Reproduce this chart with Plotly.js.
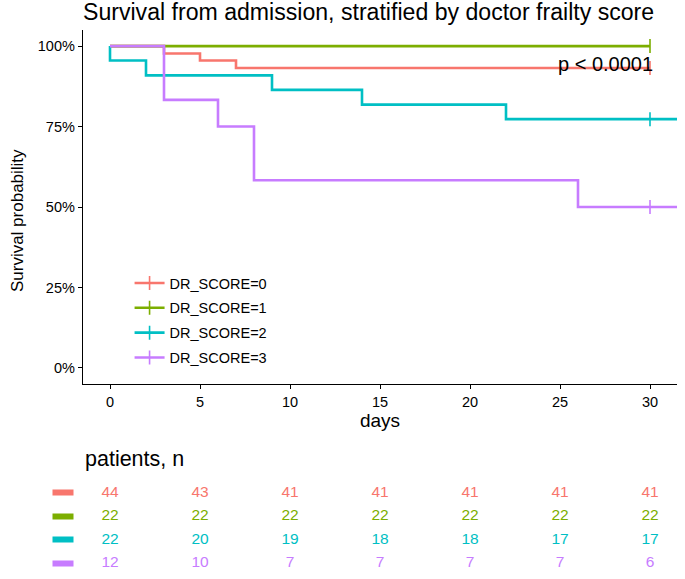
<!DOCTYPE html>
<html><head><meta charset="utf-8">
<script src="https://cdn.plot.ly/plotly-3.0.1.min.js"></script>
<style>html,body{margin:0;padding:0;background:#fff}</style>
</head><body><div id="chart" style="width:685px;height:579px"></div>
<script>
const groups = ['DR_SCORE=0','DR_SCORE=1','DR_SCORE=2','DR_SCORE=3'];
const colors = ['#F8766D','#7CAE00','#00BFC4','#C77CFF'];
// Kaplan-Meier step data (days, survival probability)
const time0 = [0, 3, 5, 7, 30];
const surv0 = [1, 0.977, 0.955, 0.932, 0.932];
const time1 = [0, 30];
const surv1 = [1, 1];
const time2 = [0, 0, 2, 9, 14, 22, 32];
const surv2 = [1, 0.955, 0.909, 0.864, 0.818, 0.773, 0.773];
const time3 = [0, 3, 6, 8, 26, 32];
const surv3 = [1, 0.833, 0.75, 0.583, 0.5, 0.5];
// censoring marks
const censorTime = [30, 30, 30, 30];
const censorSurv = [0.932, 1, 0.773, 0.5];
// risk table
const riskTimes = [0, 5, 10, 15, 20, 25, 30];
const risk0 = [44, 43, 41, 41, 41, 41, 41];
const risk1 = [22, 22, 22, 22, 22, 22, 22];
const risk2 = [22, 20, 19, 18, 18, 17, 17];
const risk3 = [12, 10, 7, 7, 7, 7, 6];
const yTicks = [0, 0.25, 0.5, 0.75, 1];
const xTicks = [0, 5, 10, 15, 20, 25, 30];

const times = [time0, time1, time2, time3];
const survs = [surv0, surv1, surv2, surv3];
const risks = [risk0, risk1, risk2, risk3];
const FONT = 'Liberation Sans, Arial, sans-serif';

const traces = [];
for (let i = 0; i < 4; i++) {
  traces.push({
    x: times[i], y: survs[i], type: 'scatter', mode: 'lines',
    line: {shape: 'hv', color: colors[i], width: 2.6},
    showlegend: false, hoverinfo: 'skip', xaxis: 'x', yaxis: 'y'
  });
}
for (let i = 0; i < 4; i++) {
  traces.push({
    x: [censorTime[i]], y: [censorSurv[i]], type: 'scatter', mode: 'lines+markers',
    name: groups[i], legendgroup: groups[i],
    line: {color: colors[i], width: 2.6},
    marker: {symbol: 'line-ns-open', size: 10, color: colors[i], line: {color: colors[i], width: 1.6}},
    cliponaxis: false, xaxis: 'x', yaxis: 'y'
  });
}
for (let i = 0; i < 4; i++) {
  traces.push({
    x: riskTimes, y: riskTimes.map(() => groups[i]), text: risks[i].map(String),
    type: 'scatter', mode: 'text', textposition: 'middle center',
    textfont: {family: FONT, size: 15.5, color: colors[i]},
    showlegend: false, hoverinfo: 'skip', xaxis: 'x2', yaxis: 'y2'
  });
}

// colour keys of the risk table rows
const keyAnnotations = groups.map((g, i) => ({
  text: ' ', x: -0.0337, y: g, xref: 'paper', yref: 'y2', xanchor: 'center', yanchor: 'middle',
  showarrow: false, width: 18, height: 3, borderpad: 1, bgcolor: colors[i], font: {size: 1}
}));

const layout = {
  width: 685, height: 579,
  margin: {l: 83, r: 8, t: 30, b: 2},
  paper_bgcolor: '#fff', plot_bgcolor: '#fff',
  font: {family: FONT, color: '#000'},
  title: {text: 'Survival from admission, stratified by doctor frailty score',
          font: {family: FONT, size: 23.1, color: '#000'},
          xref: 'paper', x: 0, xanchor: 'left', yref: 'container', y: 0.98, yanchor: 'middle'},
  xaxis: {domain: [0, 1], range: [-1.5, 31.5], tickmode: 'array', tickvals: xTicks,
          showgrid: false, zeroline: false, showline: true, linecolor: '#000', linewidth: 1.2,
          ticks: 'outside', ticklen: 4, tickcolor: '#000', tickfont: {size: 14.5, color: '#000'},
          title: {text: 'days', font: {size: 19, color: '#000'}, standoff: 3},
          anchor: 'y'},
  yaxis: {domain: [0.3528, 1], range: [-0.05, 1.05], tickmode: 'array', tickvals: yTicks,
          tickformat: '.0%', showgrid: false, zeroline: false, showline: true, linecolor: '#000', linewidth: 1.2,
          ticks: 'outside', ticklen: 4, tickcolor: '#000', tickfont: {size: 14.5, color: '#000'},
          anchor: 'x'},
  xaxis2: {domain: [0, 1], range: [-1.5, 31.5], matches: 'x', anchor: 'y2', visible: false, showgrid: false},
  yaxis2: {domain: [0.0042, 0.175], type: 'category', categoryarray: groups, range: [3.5, -0.5],
           autorange: false, anchor: 'x2', showgrid: false, zeroline: false, showline: false, ticks: '',
           showticklabels: false},
  legend: {x: 0.0784, y: 0.5667, xanchor: 'left', yanchor: 'top', bgcolor: 'rgba(0,0,0,0)',
           font: {size: 14.5, color: '#000'}, tracegroupgap: 3, itemwidth: 30},
  annotations: [
    {text: 'Survival probability', textangle: -90, x: -0.111, y: 0.6508, xref: 'paper', yref: 'paper',
     xanchor: 'center', yanchor: 'middle', showarrow: false, font: {family: FONT, size: 17, color: '#000'}},
    {text: 'p < 0.0001', x: 30.25, y: 0.944, xref: 'x', yref: 'y', xanchor: 'right', yanchor: 'middle',
     showarrow: false, font: {family: FONT, size: 20, color: '#000'}},
    {text: 'patients, n', x: 0, y: 0.216, xref: 'paper', yref: 'paper', xanchor: 'left', yanchor: 'middle',
     showarrow: false, font: {family: FONT, size: 21.5, color: '#000'}}
  ].concat(keyAnnotations),
  showlegend: true
};
Plotly.newPlot('chart', traces, layout, {displayModeBar: false, staticPlot: true});
</script></body></html>
